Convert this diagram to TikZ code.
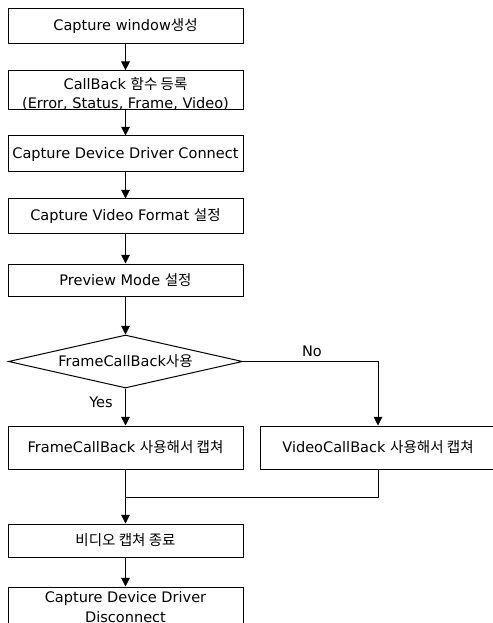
\documentclass[tikz,border=0pt]{standalone}
\usepackage{fontspec}
\setmainfont{DejaVu Sans}
\newfontfamily\kr{Noto Sans CJK KR}
\usetikzlibrary{calc, arrows.meta, shapes.geometric}

\tikzset{
    box/.style={draw, rectangle, align=center, minimum width=176.25pt, inner sep=0pt},
    decision/.style={draw, diamond, aspect=4.4, minimum width=175.5pt, minimum height=39.75pt, inner sep=0pt},
    flow/.style={-{Triangle[length=6.5pt, width=6.5pt]}},
}

\begin{document}
\begin{tikzpicture}[x=0.75pt, y=-0.75pt, line width=0.75pt, font=\fontsize{10.9}{14.5}\selectfont]

    \useasboundingbox (0,0) rectangle (492,623);

    % Draw nodes
    \node[box, minimum height=26.25pt] (window) at (125.5,26.5) {Capture window{\kr 생성}};
    \node[box, minimum height=25.5pt] (callback) at (125.5,90) {\raisebox{-4pt}[\height][\depth]{\begin{tabular}{@{}c@{}}CallBack {\kr 함수 등록}\\(Error, Status, Frame, Video)\end{tabular}}};
    \node[box, minimum height=27pt] (connect) at (125.5,154) {Capture Device Driver Connect};
    \node[box, minimum height=26.25pt] (format) at (125.5,216.5) {Capture Video Format {\kr 설정}};
    \node[box, minimum height=24pt] (preview) at (125.5,280) {Preview Mode {\kr 설정}};
    \node[decision] (usecb) at (125.5,361.5) {FrameCallBack{\kr 사용}};
    \node[box, minimum height=32.25pt] (framecap) at (125.5,447.5) {FrameCallBack {\kr 사용해서 캡쳐}};
    \node[box, minimum height=32.25pt] (videocap) at (378,447.5) {VideoCallBack {\kr 사용해서 캡쳐}};
    \node[box, minimum height=24.75pt] (stop) at (125.5,540.5) {\kr 비디오 캡쳐 종료};
    \node[box, minimum height=30pt] (disconnect) at (125.5,607) {Capture Device Driver\\Disconnect};

    \node (yes) at (101,402) {Yes};
    \node (no) at (312,351) {No};
    \coordinate (merge) at (125.5,497);

    % Draw arrows
    \draw[flow] (window) -- (callback);
    \draw[flow] (callback) -- (connect);
    \draw[flow] (connect) -- (format);
    \draw[flow] (format) -- (preview);
    \draw[flow] (preview) -- (usecb);
    \draw[flow] (usecb) -- (framecap);
    \draw[flow] (usecb.east) -| (videocap);
    \draw (videocap) |- (merge);
    \draw[flow] (framecap) -- (stop);
    \draw[flow] (stop) -- (disconnect);

\end{tikzpicture}
\end{document}
